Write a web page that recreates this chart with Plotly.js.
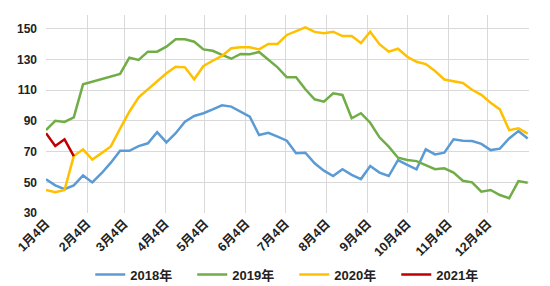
<!DOCTYPE html>
<html>
<head>
<meta charset="utf-8">
<script src="https://cdn.plot.ly/plotly-3.0.1.min.js"></script>
<style>html,body{margin:0;padding:0;background:#fff;}#chart{width:550px;height:286px;}</style>
</head>
<body>
<div id="chart"></div>
<script>
// Weekly observations, starting on 1月4日 of each year
const startDate = [2001, 0, 4];
const seriesNames = ['2018年', '2019年', '2020年', '2021年'];
const v2018 = [52, 48, 45.5, 48, 54.5, 49.9, 55.9, 62.8, 70.6, 70.5, 73.6, 75.4, 82.6, 76, 82, 89.5, 93.2, 95, 97.5, 100.2, 99.3, 96, 92.7, 80.8, 82.3, 79.7, 77.1, 69, 69.3, 62.4, 57.6, 54.1, 58.5, 54.8, 52.1, 60.6, 56.3, 54.1, 64.5, 61.3, 58.5, 71.5, 68.2, 69.3, 78, 77.1, 76.9, 75, 71, 71.9, 78.6, 83.4, 78.6];
const v2019 = [84, 90.1, 89.3, 92.3, 113.8, 115.5, 117.2, 118.9, 120.6, 131.2, 129.7, 135.1, 135.1, 138.4, 143.2, 143.2, 141.6, 136.6, 135.7, 133, 130.5, 133.6, 133.4, 134.9, 130.1, 124.9, 118.4, 118.4, 110.6, 104.1, 102.5, 108, 106.9, 91.7, 95, 88.8, 79.3, 73.2, 66, 64.5, 63.8, 61.3, 58.5, 59.1, 56.3, 51, 50, 43.9, 45, 41.7, 39.6, 50.8, 49.7];
const v2020 = [45, 43.5, 45, 67.1, 71.5, 64.8, 69, 73.4, 85, 96, 105.4, 110.6, 115.5, 121, 125.3, 124.9, 117.1, 125.8, 129.2, 132.3, 137.3, 138, 138, 136.6, 140.1, 140.1, 146, 148.5, 151, 148, 147.1, 148.1, 145.3, 145.3, 140.8, 148.1, 140, 135.1, 137, 131.8, 128.5, 127, 122.5, 117, 116, 114.7, 110.3, 107, 101.8, 97.5, 84, 85.2, 81.7];
const v2021 = [82, 73.6, 78, 67.1];
const tickDates = ['2001-01-04','2001-02-04','2001-03-04','2001-04-04','2001-05-04','2001-06-04','2001-07-04','2001-08-04','2001-09-04','2001-10-04','2001-11-04','2001-12-04'];
const tickLabels = ['1月4日','2月4日','3月4日','4月4日','5月4日','6月4日','7月4日','8月4日','9月4日','10月4日','11月4日','12月4日'];
const yTicks = [30, 50, 70, 90, 110, 130, 150];
const colors = ['#5B9BD5', '#70AD47', '#FFC000', '#C00000'];

function weekDates(n) {
  const out = [];
  for (let i = 0; i < n; i++) {
    const d = new Date(Date.UTC(startDate[0], startDate[1], startDate[2] + 7 * i));
    out.push(d.toISOString().slice(0, 10));
  }
  return out;
}

const allValues = [v2018, v2019, v2020, v2021];
const traces = allValues.map((vals, k) => ({
  type: 'scatter',
  mode: 'lines',
  name: seriesNames[k],
  x: weekDates(vals.length),
  y: vals,
  line: {color: colors[k], width: 2.5},
  hoverinfo: 'skip'
}));

const fam = '"Liberation Sans", Arial, "Noto Sans CJK SC", sans-serif';

const layout = {
  width: 550,
  height: 286,
  margin: {l: 46, r: 21, t: 15, b: 73},
  paper_bgcolor: '#fff',
  plot_bgcolor: '#fff',
  font: {family: fam, size: 12, color: '#222'},
  showlegend: true,
  legend: {
    orientation: 'h',
    xref: 'container', yref: 'container',
    x: 0.535, xanchor: 'center',
    y: 0.04, yanchor: 'middle',
    font: {family: fam, size: 13, color: '#222', weight: 'bold'},
    entrywidth: 57,
    itemwidth: 30,
    tracegroupgap: 0
  },
  xaxis: {
    type: 'date',
    range: ['2001-01-04', '2002-01-04'],
    tickvals: tickDates,
    ticktext: tickLabels,
    tickangle: -45,
    tickfont: {family: fam, size: 12.5, color: '#222', weight: 'bold'},
    showgrid: true,
    gridcolor: '#D9D9D9',
    gridwidth: 1,
    showline: false,
    zeroline: false,
    ticks: '',
    automargin: false,
    fixedrange: true
  },
  yaxis: {
    range: [30, 159],
    tickvals: yTicks,
    tickfont: {family: fam, size: 12, color: '#222', weight: 'bold'},
    showgrid: true,
    gridcolor: '#D9D9D9',
    gridwidth: 1,
    showline: false,
    zeroline: false,
    ticks: '',
    ticklabelstandoff: 8,
    automargin: false,
    fixedrange: true
  }
};

Plotly.newPlot('chart', traces, layout, {staticPlot: true, displayModeBar: false});
</script>
</body>
</html>
